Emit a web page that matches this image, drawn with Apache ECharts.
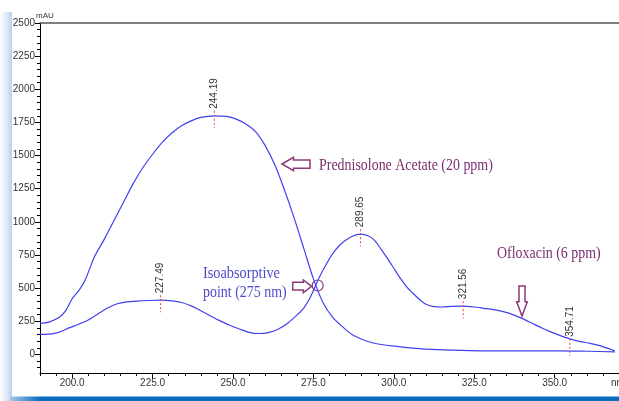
<!DOCTYPE html>
<html>
<head>
<meta charset="utf-8">
<script src="https://cdn.jsdelivr.net/npm/echarts@6/dist/echarts.min.js"></script>
<style>
html,body{margin:0;padding:0;background:#fff;}
#chart{width:619px;height:401px;}
</style>
</head>
<body>
<div id="chart"></div>
<script>
// Prednisolone Acetate (20 ppm)
const wlPred = [190, 193, 196, 198, 200, 202, 204, 207, 210, 213, 216, 219, 222, 225, 228, 231, 234, 237, 240, 244.2, 248, 251, 254, 257, 260, 263, 266, 269, 272, 275, 278, 281, 284, 287, 290, 293, 296, 300, 305, 310, 318, 327, 340, 351, 360, 368.7];
const absPred = [234, 246, 280, 330, 420, 480, 560, 740, 870, 1010, 1150, 1290, 1410, 1510, 1600, 1670, 1725, 1762, 1788, 1800, 1795, 1775, 1738, 1680, 1575, 1430, 1240, 1030, 800, 570, 390, 280, 210, 150, 115, 90, 75, 62, 50, 40, 32, 27, 27, 27, 24, 20];
// Ofloxacin (6 ppm)
const wlOfl = [190, 193, 196, 199, 202, 205, 208, 211, 214, 217, 220, 224, 227.5, 231, 234, 237, 240, 243, 246, 249, 252, 255, 258, 261, 264, 267, 270, 272, 274, 275.7, 277, 279, 281, 283, 285, 287, 289.6, 292, 294, 296, 298, 300, 302, 304, 306, 308, 310, 312, 315, 318, 321.5, 325, 328, 331, 334, 337, 340, 343, 346, 349, 352, 355, 358, 361, 364, 367, 368.7];
const absOfl = [151, 153, 168, 200, 228, 260, 305, 350, 382, 396, 402, 407, 409, 404, 392, 366, 330, 290, 253, 220, 192, 167, 158, 165, 190, 235, 300, 350, 430, 520, 590, 680, 760, 820, 862, 890, 907, 895, 860, 795, 725, 650, 575, 510, 460, 415, 378, 362, 358, 362, 364, 358, 348, 338, 323, 300, 270, 235, 200, 168, 140, 115, 97, 84, 67, 42, 27];
// Peak labels
const peakWl = [227.49, 244.19, 289.65, 321.56, 354.71];
const peakAbs = [409, 1800, 907, 364, 80];
// Axis ticks
const xTicks = [200, 225, 250, 275, 300, 325, 350];
const yTicks = [0, 250, 500, 750, 1000, 1250, 1500, 1750, 2000, 2250, 2500];
const xMinor = []; for (let v = 190; v <= 370; v += 5) xMinor.push(v);
const yMinor = []; for (let v = -100; v <= 2500; v += 50) yMinor.push(v);

const pairs = (a, b) => a.map((v, i) => [v, b[i]]);
const lblFont = "'Liberation Sans Narrow','Arial Narrow','Liberation Sans',Arial,sans-serif";
const serif = "'Liberation Serif','Times New Roman',serif";
const purple = '#7b2d6e';

const chart = echarts.init(document.getElementById('chart'), null, {renderer: 'canvas'});
const XMIN = 190, XMAX = 370, YMIN = -140, YMAX = 2500;

const baseX = {type: 'value', min: XMIN, max: XMAX, splitLine: {show: false}};
const baseY = {type: 'value', min: YMIN, max: YMAX, splitLine: {show: false}};

chart.setOption({
  animation: false,
  backgroundColor: '#fff',
  grid: {left: 40, right: 0, top: 23, bottom: 28, show: false},
  xAxis: [
    Object.assign({}, baseX, {
      position: 'bottom',
      axisLine: {show: true, onZero: false, lineStyle: {color: '#000', width: 1}},
      axisTick: {show: true, customValues: xTicks, length: 5, lineStyle: {color: '#000'}},
      axisLabel: {show: true, customValues: xTicks, margin: 5, color: '#333', fontSize: 10, fontFamily: lblFont,
        formatter: v => v.toFixed(1)}
    }),
    Object.assign({}, baseX, {
      position: 'bottom',
      axisLine: {show: false, onZero: false},
      axisTick: {show: true, customValues: xMinor, length: 3, lineStyle: {color: '#000'}},
      axisLabel: {show: false}
    }),
    Object.assign({}, baseX, {
      position: 'top',
      axisLine: {show: true, onZero: false, lineStyle: {color: '#555', width: 1.5}},
      axisTick: {show: false},
      axisLabel: {show: false}
    })
  ],
  yAxis: [
    Object.assign({}, baseY, {
      position: 'left',
      axisLine: {show: true, onZero: false, lineStyle: {color: '#000', width: 1}},
      axisTick: {show: true, customValues: yTicks, length: 5, lineStyle: {color: '#000'}},
      axisLabel: {show: true, customValues: yTicks, margin: 5, color: '#333', fontSize: 10, fontFamily: lblFont,
        formatter: v => String(Math.round(v))}
    }),
    Object.assign({}, baseY, {
      position: 'left',
      axisLine: {show: false, onZero: false},
      axisTick: {show: true, customValues: yMinor, length: 3, lineStyle: {color: '#000'}},
      axisLabel: {show: false}
    })
  ],
  series: [
    {
      name: 'Prednisolone Acetate (20 ppm)', type: 'line', xAxisIndex: 0, yAxisIndex: 0,
      data: pairs(wlPred, absPred), showSymbol: false, smooth: 0.25,
      lineStyle: {color: '#4040f2', width: 1.2}
    },
    {
      name: 'Ofloxacin (6 ppm)', type: 'line', xAxisIndex: 0, yAxisIndex: 0,
      data: pairs(wlOfl, absOfl), showSymbol: false, smooth: 0.25,
      lineStyle: {color: '#4040f2', width: 1.2}
    },
    {
      type: 'custom', xAxisIndex: 0, yAxisIndex: 0, z: 5,
      data: pairs(peakWl, peakAbs),
      renderItem: function (params, api) {
        const p = api.coord([api.value(0), api.value(1)]);
        return {
          type: 'group',
          children: [
            {type: 'line', shape: {x1: p[0], y1: p[1] - 5, x2: p[0], y2: p[1] + 12},
              style: {stroke: '#e8453c', lineWidth: 1, lineDash: [2, 2]}},
            {type: 'text', x: p[0], y: p[1] - 7, rotation: Math.PI / 2,
              style: {text: api.value(0).toFixed(2), font: '10px ' + lblFont, fill: '#333',
                align: 'left', verticalAlign: 'middle'}}
          ]
        };
      }
    }
  ],
  graphic: [
    {type: 'rect', silent: true, z: -10, shape: {x: 0, y: 12, width: 12, height: 389},
      style: {fill: new echarts.graphic.LinearGradient(0, 0, 1, 0, [
        {offset: 0, color: '#ffffff'}, {offset: 0.6, color: '#dbe7f5'}, {offset: 1, color: '#b9d0ec'}])}},
    {type: 'rect', silent: true, z: -10, shape: {x: 10, y: 396.5, width: 609, height: 5},
      style: {fill: new echarts.graphic.LinearGradient(0, 0, 1, 0, [
        {offset: 0, color: '#a8c8e8'}, {offset: 0.05, color: '#0a6cbf'}, {offset: 1, color: '#0a6cbf'}])}},
    {type: 'text', x: 36, y: 15.5, style: {text: 'mAU', font: '8px ' + lblFont, fill: '#333',
      align: 'left', verticalAlign: 'middle'}},
    {type: 'text', x: 611, y: 383, style: {text: 'nm', font: '10px ' + lblFont, fill: '#333',
      align: 'left', verticalAlign: 'middle'}},
    {type: 'text', x: 319, y: 166, scaleX: 0.82, style: {text: 'Prednisolone Acetate (20 ppm)',
      font: '17px ' + serif, fill: purple, align: 'left', verticalAlign: 'middle'}},
    {type: 'text', x: 497, y: 254, scaleX: 0.82, style: {text: 'Ofloxacin (6 ppm)',
      font: '17px ' + serif, fill: purple, align: 'left', verticalAlign: 'middle'}},
    {type: 'text', x: 203, y: 273.5, scaleX: 0.84, style: {text: 'Isoabsorptive',
      font: '17px ' + serif, fill: '#4b4bc8', align: 'left', verticalAlign: 'middle'}},
    {type: 'text', x: 203, y: 292.5, scaleX: 0.82, style: {text: 'point (275 nm)',
      font: '17px ' + serif, fill: '#4b4bc8', align: 'left', verticalAlign: 'middle'}},
    {type: 'polygon', shape: {points: [[282, 164], [293.5, 157.3], [293.5, 160], [310, 160], [310, 168.3], [293.5, 168.3], [293.5, 170.7]]},
      style: {fill: 'rgba(255,255,255,0)', stroke: '#8b3a7a', lineWidth: 1.5}},
    {type: 'polygon', shape: {points: [[292.7, 282.3], [303.3, 282.3], [303.3, 280], [311.7, 286.3], [303.3, 292.7], [303.3, 290], [292.7, 290]]},
      style: {fill: 'rgba(255,255,255,0)', stroke: '#8b3a7a', lineWidth: 1.5}},
    {type: 'polygon', shape: {points: [[519, 286], [525, 286], [525, 301.7], [527.3, 301.7], [522, 316], [516.7, 301.7], [519, 301.7]]},
      style: {fill: 'rgba(255,255,255,0)', stroke: '#8b3a7a', lineWidth: 1.5}},
    {type: 'circle', shape: {cx: 317.7, cy: 285.5, r: 5.5},
      style: {fill: 'rgba(255,255,255,0)', stroke: '#8b3a7a', lineWidth: 1.2}}
  ]
});
</script>
</body>
</html>
